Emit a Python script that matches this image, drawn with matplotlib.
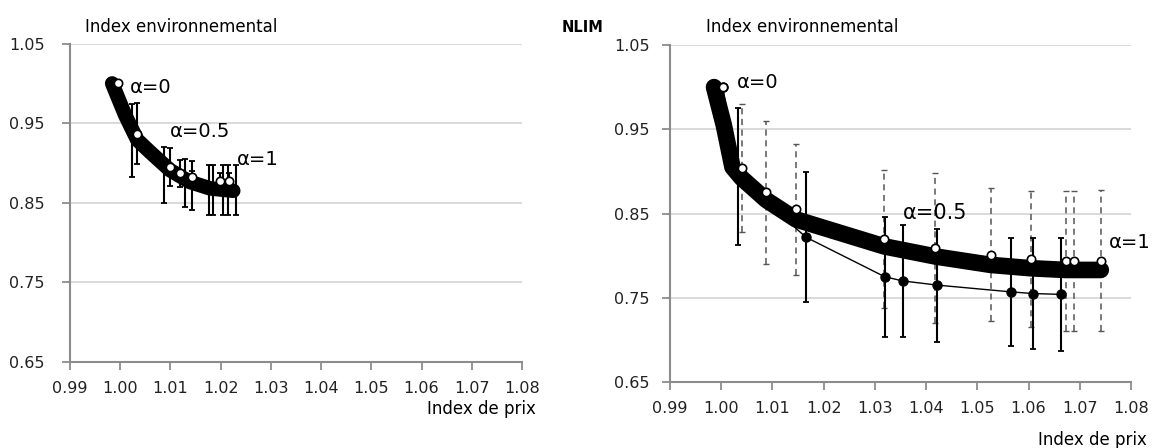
import matplotlib
matplotlib.use("Agg")
import matplotlib.pyplot as plt
import numpy as np

plt.rcParams['font.family'] = ['DejaVu Sans']

# ---------------- data ----------------
x_ticks = [0.99, 1.00, 1.01, 1.02, 1.03, 1.04, 1.05, 1.06, 1.07, 1.08]
y_ticks = [0.65, 0.75, 0.85, 0.95, 1.05]

# left panel
left_curve_x = [0.9984, 1.0010, 1.0034, 1.0059, 1.0099, 1.0139, 1.0179, 1.0225]
left_curve_y = [1.000, 0.960, 0.929, 0.914, 0.891, 0.876, 0.868, 0.865]

left_white_x = [0.9996, 1.0034, 1.0099, 1.0119, 1.0143, 1.0199, 1.0217]
left_white_y = [1.000, 0.937, 0.895, 0.887, 0.882, 0.877, 0.877]
left_white_err = [0.0, 0.038, 0.024, 0.017, 0.008, 0.010, 0.010]

left_black_x = [1.0024, 1.0087, 1.0129, 1.0142, 1.0177, 1.0185, 1.0204, 1.0214, 1.0231]
left_black_y = [0.928, 0.885, 0.875, 0.872, 0.866, 0.866, 0.866, 0.866, 0.866]
left_black_err = [0.046, 0.035, 0.030, 0.031, 0.031, 0.031, 0.031, 0.031, 0.031]

# right panel
right_curve_x = [0.9986, 1.0005, 1.0022, 1.0040, 1.0088, 1.0146, 1.0318, 1.0418,
                 1.0526, 1.0605, 1.0673, 1.0741]
right_curve_y = [1.000, 0.955, 0.905, 0.892, 0.866, 0.843, 0.811, 0.799,
                 0.789, 0.785, 0.783, 0.783]

right_white_x = [1.0003, 1.0040, 1.0088, 1.0146, 1.0318, 1.0418, 1.0526, 1.0605,
                 1.0673, 1.0689, 1.0741]
right_white_y = [1.000, 0.904, 0.875, 0.855, 0.820, 0.809, 0.801, 0.796,
                 0.794, 0.794, 0.794]
right_white_err = [0.0, 0.076, 0.085, 0.078, 0.082, 0.089, 0.079, 0.081,
                   0.083, 0.083, 0.084]

right_black_x = [1.0003, 1.0033, 1.0165, 1.0319, 1.0354, 1.0422, 1.0565, 1.0608, 1.0663]
right_black_y = [1.000, 0.894, 0.822, 0.775, 0.770, 0.765, 0.757, 0.755, 0.754]
right_black_err = [0.0, 0.081, 0.077, 0.071, 0.066, 0.067, 0.064, 0.066, 0.067]

# ---------------- figure ----------------
fig = plt.figure(figsize=(11.52, 4.48), dpi=100)

axL = fig.add_axes([70/1152, 1-361.7/448, 452/1152, 318/448])
axR = fig.add_axes([670/1152, 1-382/448, 461/1152, 337/448])

grid_c = '#d9d9d9'
axis_c = '#8c8c8c'

for ax in (axL, axR):
    ax.set_xlim(0.99, 1.08)
    ax.set_ylim(0.65, 1.05)
    ax.set_xticks(x_ticks)
    ax.set_yticks(y_ticks)
    ax.set_xticklabels([f"{v:.2f}" for v in x_ticks])
    ax.set_yticklabels([f"{v:.2f}" for v in y_ticks])
    for s in ('top', 'right'):
        ax.spines[s].set_visible(False)
    for s in ('left', 'bottom'):
        ax.spines[s].set_color(axis_c)
        ax.spines[s].set_linewidth(1.5)
    ax.tick_params(axis='both', colors=axis_c, length=6, width=1.3,
                   labelcolor='#222222', labelsize=11.5)
    ax.tick_params(axis='x', pad=8)
    ax.grid(axis='y', color=grid_c, linewidth=1.4)
    ax.set_axisbelow(True)

axL.tick_params(axis='y', pad=12)
axR.tick_params(axis='y', pad=8.5)

# left panel drawing
axL.errorbar(left_black_x, left_black_y, yerr=left_black_err, fmt='none', ecolor='black',
             elinewidth=1.5, capsize=2.5, capthick=1.3, zorder=2)
axL.plot(left_curve_x, left_curve_y, color='black', lw=10.5,
         solid_capstyle='round', solid_joinstyle='round', zorder=3)
axL.errorbar(left_white_x, left_white_y, yerr=left_white_err, fmt='none', ecolor='black',
             elinewidth=1.5, capsize=2.5, capthick=1.3, zorder=4)
axL.plot(left_white_x, left_white_y, 'o', ms=6, mfc='white', mec='black', mew=1.2, zorder=5)

alpha_fs = 14
axL.text(1.0020, 0.995, 'α=0', fontsize=alpha_fs, va='center', ha='left')
axL.text(1.0099, 0.939, 'α=0.5', fontsize=alpha_fs, va='center', ha='left')
axL.text(1.0233, 0.904, 'α=1', fontsize=alpha_fs, va='center', ha='left')

fig.text(85/1152, 1-27/448, 'Index environnemental', fontsize=12, ha='left', va='center')
fig.text(536/1152, 1-409/448, 'Index de prix', fontsize=12, ha='right', va='center')

# right panel drawing
axR.errorbar(right_black_x, right_black_y, yerr=right_black_err, fmt='-o', color='black',
             ms=6.5, lw=1.0, elinewidth=1.5, capsize=2.5, capthick=1.3, zorder=2)
axR.plot(right_curve_x, right_curve_y, color='black', lw=12,
         solid_capstyle='round', solid_joinstyle='round', zorder=3)
eb = axR.errorbar(right_white_x, right_white_y, yerr=right_white_err, fmt='none',
                  ecolor='#555555', elinewidth=1.1, capsize=2.5, capthick=1.0, zorder=1.5)
for lc in eb[2]:
    lc.set_linestyle((0, (4, 3)))
axR.plot(right_white_x, right_white_y, 'o', ms=6, mfc='white', mec='black', mew=1.2, zorder=5)

axR.text(1.0031, 1.005, 'α=0', fontsize=alpha_fs, va='center', ha='left')
axR.text(1.0355, 0.851, 'α=0.5', fontsize=15, va='center', ha='left')
axR.text(1.0756, 0.815, 'α=1', fontsize=alpha_fs, va='center', ha='left')

fig.text(562/1152, 1-27/448, 'NLIM', fontsize=10.5, fontweight='bold', ha='left', va='center')
fig.text(706/1152, 1-27/448, 'Index environnemental', fontsize=12, ha='left', va='center')
fig.text(1147/1152, 1-440/448, 'Index de prix', fontsize=12, ha='right', va='center')

fig.savefig('out.png', dpi=100)
